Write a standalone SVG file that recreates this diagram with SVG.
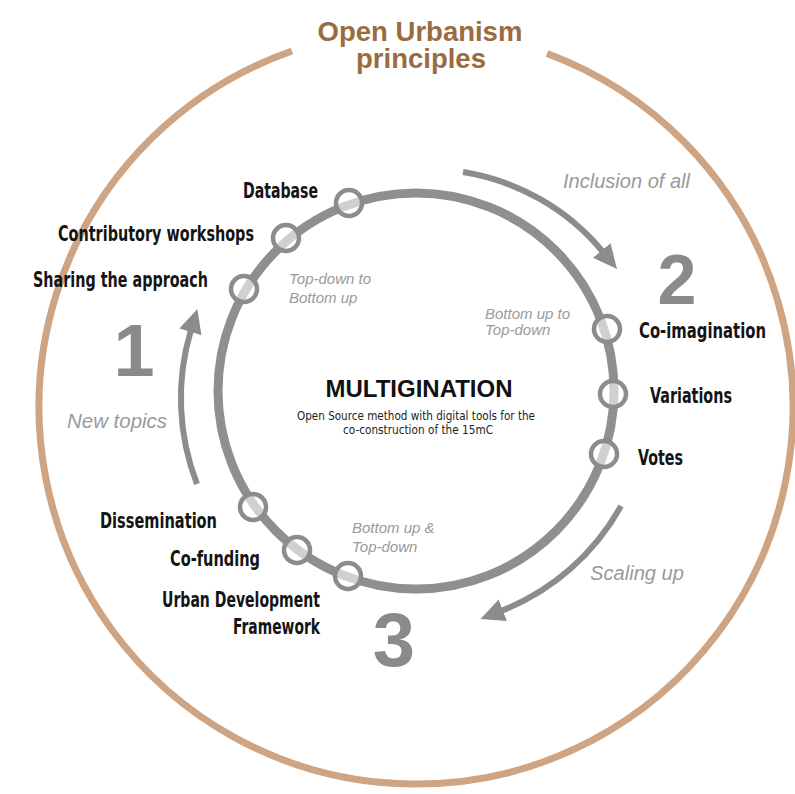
<svg xmlns="http://www.w3.org/2000/svg" width="795" height="794" viewBox="0 0 795 794">
<defs>
<style>
.lbl{font-family:"Liberation Sans Narrow","DejaVu Sans Condensed","Liberation Sans",sans-serif;font-weight:bold;font-size:21px;fill:#141414}
.it{font-family:"Liberation Sans",Arial,sans-serif;font-style:italic;fill:#9a9a9a}
.num{font-family:"Liberation Sans",Arial,sans-serif;font-weight:bold;fill:#8a8a8a;text-anchor:middle}
.node{fill:#ffffff;fill-opacity:0.58;stroke:#8c8c8c;stroke-width:4.5}
.arr{fill:none;stroke:#8c8c8c;stroke-width:6}
.ttl{font-family:"Liberation Sans",Arial,sans-serif;font-weight:bold;font-size:27.5px;fill:#9b6b40;text-anchor:middle}
</style>
<marker id="ah" markerUnits="userSpaceOnUse" markerWidth="25" markerHeight="24" viewBox="0 -12 25 24" refX="2" refY="0" orient="auto">
<path d="M0,-11.5 L24,0 L0,11.5 z" fill="#8c8c8c"/>
</marker>
</defs>
<rect width="795" height="794" fill="#ffffff"/>

<g id="outer-frame">
<path d="M 292 51 A 377 377 0 1 0 547 53.5" fill="none" stroke="#cea482" stroke-width="7"/>
<text class="ttl" x="420" y="41">Open Urbanism</text>
<text class="ttl" x="421" y="68">principles</text>
</g>

<g id="ring">
<circle cx="416" cy="391" r="198" fill="none" stroke="#8f8f8f" stroke-width="9"/>
</g>

<g id="connectors">
<path class="arr" d="M 463 172 A 228 228 0 0 1 603 252" marker-end="url(#ah)"/>
<path class="arr" d="M 621 506 A 234 234 0 0 1 501 611" marker-end="url(#ah)"/>
<path class="arr" d="M 197 484 A 236 236 0 0 1 191 330" marker-end="url(#ah)"/>
</g>

<g id="center">
<text x="419" y="397" text-anchor="middle" font-family="Liberation Sans,Arial,sans-serif" font-weight="bold" font-size="24" fill="#111">MULTIGINATION</text>
<text x="416" y="420" text-anchor="middle" font-family="Liberation Sans Narrow,DejaVu Sans Condensed,Liberation Sans,sans-serif" font-size="13" fill="#222" textLength="238" lengthAdjust="spacingAndGlyphs">Open Source method with digital tools for the</text>
<text x="418" y="434" text-anchor="middle" font-family="Liberation Sans Narrow,DejaVu Sans Condensed,Liberation Sans,sans-serif" font-size="13" fill="#222" textLength="150" lengthAdjust="spacingAndGlyphs">co-construction of the 15mC</text>
</g>

<g id="phase-numbers">
<text class="num" x="134" y="376" font-size="74">1</text>
<text class="num" x="677" y="304" font-size="70">2</text>
<text class="num" x="394" y="666" font-size="76">3</text>
</g>

<g id="phase-labels">
<text class="it" x="563" y="188" font-size="19.5" textLength="127" lengthAdjust="spacingAndGlyphs">Inclusion of all</text>
<text class="it" x="590" y="580" font-size="20" textLength="94" lengthAdjust="spacingAndGlyphs">Scaling up</text>
<text class="it" x="67" y="428" font-size="20" textLength="100" lengthAdjust="spacingAndGlyphs">New topics</text>
<text class="it" x="289" y="284" font-size="15">Top-down to</text>
<text class="it" x="289" y="303" font-size="15">Bottom up</text>
<text class="it" x="485" y="319" font-size="15">Bottom up to</text>
<text class="it" x="485" y="335" font-size="15">Top-down</text>
<text class="it" x="352" y="533" font-size="15">Bottom up &amp;</text>
<text class="it" x="352" y="552" font-size="15">Top-down</text>
</g>

<g id="node-database">
<circle class="node" cx="349" cy="203" r="13"/>
<text class="lbl" x="243" y="198" textLength="75" lengthAdjust="spacingAndGlyphs">Database</text>
</g>
<g id="node-contributory-workshops">
<circle class="node" cx="286" cy="238" r="13"/>
<text class="lbl" x="58" y="241" textLength="196" lengthAdjust="spacingAndGlyphs">Contributory workshops</text>
</g>
<g id="node-sharing-the-approach">
<circle class="node" cx="244" cy="289" r="13"/>
<text class="lbl" x="33" y="287" textLength="175" lengthAdjust="spacingAndGlyphs">Sharing the approach</text>
</g>
<g id="node-co-imagination">
<circle class="node" cx="607" cy="329" r="13"/>
<text class="lbl" x="639" y="338" textLength="127" lengthAdjust="spacingAndGlyphs">Co-imagination</text>
</g>
<g id="node-variations">
<circle class="node" cx="613" cy="394" r="13"/>
<text class="lbl" x="650" y="403" textLength="82" lengthAdjust="spacingAndGlyphs">Variations</text>
</g>
<g id="node-votes">
<circle class="node" cx="604" cy="454" r="13"/>
<text class="lbl" x="638" y="465" textLength="45" lengthAdjust="spacingAndGlyphs">Votes</text>
</g>
<g id="node-dissemination">
<circle class="node" cx="253" cy="507" r="13"/>
<text class="lbl" x="100" y="528" textLength="117" lengthAdjust="spacingAndGlyphs">Dissemination</text>
</g>
<g id="node-co-funding">
<circle class="node" cx="297" cy="550" r="13"/>
<text class="lbl" x="170" y="566" textLength="90" lengthAdjust="spacingAndGlyphs">Co-funding</text>
</g>
<g id="node-urban-development-framework">
<circle class="node" cx="348" cy="576" r="13"/>
<text class="lbl" x="162" y="607" textLength="158" lengthAdjust="spacingAndGlyphs">Urban Development</text>
<text class="lbl" x="233" y="634" textLength="87" lengthAdjust="spacingAndGlyphs">Framework</text>
</g>
</svg>
